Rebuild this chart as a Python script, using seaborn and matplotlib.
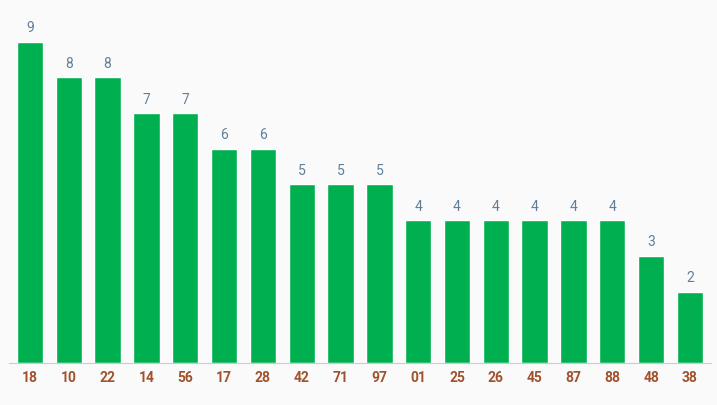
import matplotlib
matplotlib.use("Agg")
import matplotlib.pyplot as plt
import seaborn as sns
import pandas as pd

labels = ["18", "10", "22", "14", "56", "17", "28", "42", "71", "97",
          "01", "25", "26", "45", "87", "88", "48", "38"]
counts = [9, 8, 8, 7, 7, 6, 6, 5, 5, 5, 4, 4, 4, 4, 4, 4, 3, 2]

df = pd.DataFrame({"num": labels, "count": counts})

sns.set_style("white")
plt.rcParams["font.family"] = ["Roboto", "DejaVu Sans"]

fig = plt.figure(figsize=(7.17, 4.05), dpi=100, facecolor="#fafafa")
ax = fig.add_axes([0.012, 0.104, 0.98, 0.896])
ax.set_facecolor("#fafafa")

sns.barplot(data=df, x="num", y="count", color="#00b050", saturation=1,
            width=0.68, ax=ax)

for i, v in enumerate(counts):
    ax.text(i, v + 0.18, str(v), ha="center", va="bottom",
            fontsize=10, color="#5f7f99")

ax.set_ylim(0, 10.17)
ax.set_xlim(-0.55, len(labels) - 0.45)
ax.set_xlabel("")
ax.set_ylabel("")
ax.set_yticks([])
ax.tick_params(axis="x", length=0, pad=6)
for t in ax.get_xticklabels():
    t.set_color("#a0522d")
    t.set_fontweight("bold")
    t.set_fontsize(10)
for s in ["top", "right", "left"]:
    ax.spines[s].set_visible(False)
ax.spines["bottom"].set_color("#cccccc")

fig.savefig("out.png", dpi=100, facecolor=fig.get_facecolor())
